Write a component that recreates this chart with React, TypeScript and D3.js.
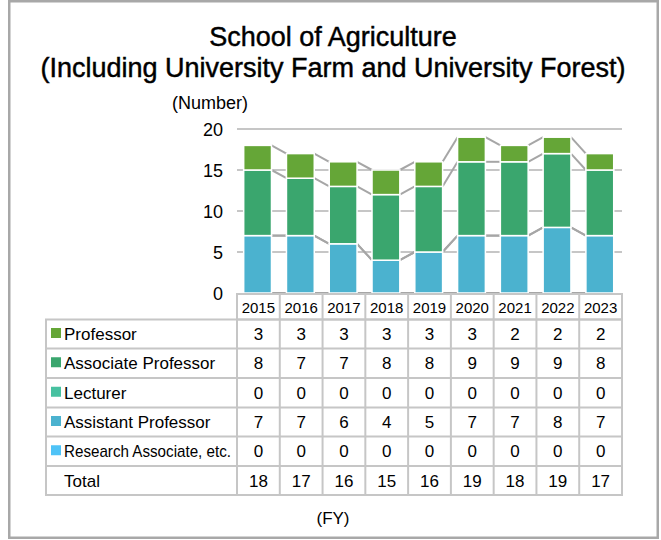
import React from "react";
import * as d3 from "d3";

const years = ["2015", "2016", "2017", "2018", "2019", "2020", "2021", "2022", "2023"];
const seriesNames = ["Professor", "Associate Professor", "Lecturer", "Assistant Professor", "Research Associate, etc."];
const professor = [3, 3, 3, 3, 3, 3, 2, 2, 2];
const associate = [8, 7, 7, 8, 8, 9, 9, 9, 8];
const lecturer = [0, 0, 0, 0, 0, 0, 0, 0, 0];
const assistant = [7, 7, 6, 4, 5, 7, 7, 8, 7];
const research = [0, 0, 0, 0, 0, 0, 0, 0, 0];
const totals = [18, 17, 16, 15, 16, 19, 18, 19, 17];
const yTicks = [0, 5, 10, 15, 20];
const colors = ["#65a637", "#3aa66e", "#47c1a0", "#4bb2cf", "#4fc3f7"];

const FONT = "'Liberation Sans', Arial, sans-serif";

export default function App() {
  const tableValues = [professor, associate, lecturer, assistant, research];
  // stack order bottom->top: research, assistant, lecturer, associate, professor
  const stackOrder = [4, 3, 2, 1, 0];
  const rows = years.map((yr, i) => {
    const r: any = { year: yr };
    stackOrder.forEach((s) => (r[seriesNames[s]] = tableValues[s][i]));
    return r;
  });
  const stack = d3.stack<any>().keys(stackOrder.map((s) => seriesNames[s]));
  const stacked = stack(rows);

  const x = d3.scaleBand<string>().domain(years).range([237, 622]).padding(0);
  const y = d3.scaleLinear().domain([0, 20]).range([293, 129]);
  const bw = x.bandwidth() * 0.65;
  const bx = (yr: string) => (x(yr) as number) + (x.bandwidth() - bw) / 2 - 0.8;

  const tableLeft = 46;
  const tableRight = 622;
  const headerTop = 294;
  const headerBottom = 319.5;
  const rowEdges = [319.5, 348.5, 378, 407.5, 436.5, 466, 495];
  const gridColor = "#c6c6c6";

  const rowLabels = [...seriesNames, "Total"];
  const rowVals = [...tableValues, totals];

  return (
    <svg
      width={661}
      height={540}
      style={{ position: "absolute", left: 0, top: 0, background: "#fff" }}
      fontFamily={FONT}
    >
      <rect x={9.25} y={1.25} width={648.5} height={536.5} fill="#fff" stroke="#a8a8a8" strokeWidth={2.5} />
      <g fill="#000" stroke="#000" strokeWidth={0.45}>
        <text x={333} y={46} textAnchor="middle" fontSize={27}>School of Agriculture</text>
        <text x={333} y={77} textAnchor="middle" fontSize={27}>(Including University Farm and University Forest)</text>
      </g>
      <text x={210} y={109} textAnchor="middle" fontSize={18} fill="#000">(Number)</text>

      {/* gridlines */}
      {yTicks.map((t) => (
        <g key={t}>
          {t > 0 && <line x1={237} x2={622} y1={y(t)} y2={y(t)} stroke={gridColor} strokeWidth={2} />}
          <text x={223} y={y(t) + 6.5} textAnchor="end" fontSize={18} fill="#000">{t}</text>
        </g>
      ))}

      {/* connectors */}
      {stacked.map((layer, li) => (
        <g key={"c" + li}>
          {years.slice(0, -1).map((yr, i) => (
            <line
              key={yr}
              x1={bx(yr) + bw}
              x2={bx(years[i + 1])}
              y1={y(layer[i][1])}
              y2={y(layer[i + 1][1])}
              stroke="#a6a6a6"
              strokeWidth={2}
            />
          ))}
        </g>
      ))}

      {/* bars */}
      {stacked.map((layer, li) => (
        <g key={"b" + li} fill={colors[stackOrder[li]]}>
          {layer.map((d, i) =>
            d[1] - d[0] > 0 ? (
              <rect
                key={i}
                x={bx(years[i])}
                y={y(d[1])}
                width={bw}
                height={y(d[0]) - y(d[1])}
                stroke="#fff"
                strokeWidth={1.5}
              />
            ) : null
          )}
        </g>
      ))}

      {/* table */}
      <g stroke={gridColor} strokeWidth={2} fill="none">
        <rect x={237} y={headerTop} width={tableRight - 237} height={headerBottom - headerTop} />
        <rect x={tableLeft} y={rowEdges[0]} width={tableRight - tableLeft} height={rowEdges[6] - rowEdges[0]} />
        {rowEdges.slice(1, -1).map((re) => (
          <line key={re} x1={tableLeft} x2={tableRight} y1={re} y2={re} />
        ))}
        {years.map((yr) => (
          <line key={yr} x1={x(yr) as number} x2={x(yr) as number} y1={headerTop} y2={rowEdges[6]} />
        ))}
      </g>
      {years.map((yr) => (
        <text key={yr} x={(x(yr) as number) + x.bandwidth() / 2} y={312.5} textAnchor="middle" fontSize={15} fill="#000">
          {yr}
        </text>
      ))}
      {rowLabels.map((lab, ri) => {
        const cy = (rowEdges[ri] + rowEdges[ri + 1]) / 2;
        return (
          <g key={lab}>
            {ri < 5 && <rect x={51} y={cy - 6} width={10} height={10} fill={colors[ri]} />}
            {ri === 4 ? (
              <text x={64} y={cy + 6} fontSize={17} fill="#000" textLength={167} lengthAdjust="spacingAndGlyphs">
                {lab}
              </text>
            ) : (
              <text x={64} y={cy + 6} fontSize={17} fill="#000">
                {lab}
              </text>
            )}
            {rowVals[ri].map((v, i) => (
              <text
                key={i}
                x={(x(years[i]) as number) + x.bandwidth() / 2}
                y={cy + 6}
                textAnchor="middle"
                fontSize={17}
                fill="#000"
              >
                {v}
              </text>
            ))}
          </g>
        );
      })}
      <text x={333} y={524} textAnchor="middle" fontSize={17} fill="#000">(FY)</text>
    </svg>
  );
}
